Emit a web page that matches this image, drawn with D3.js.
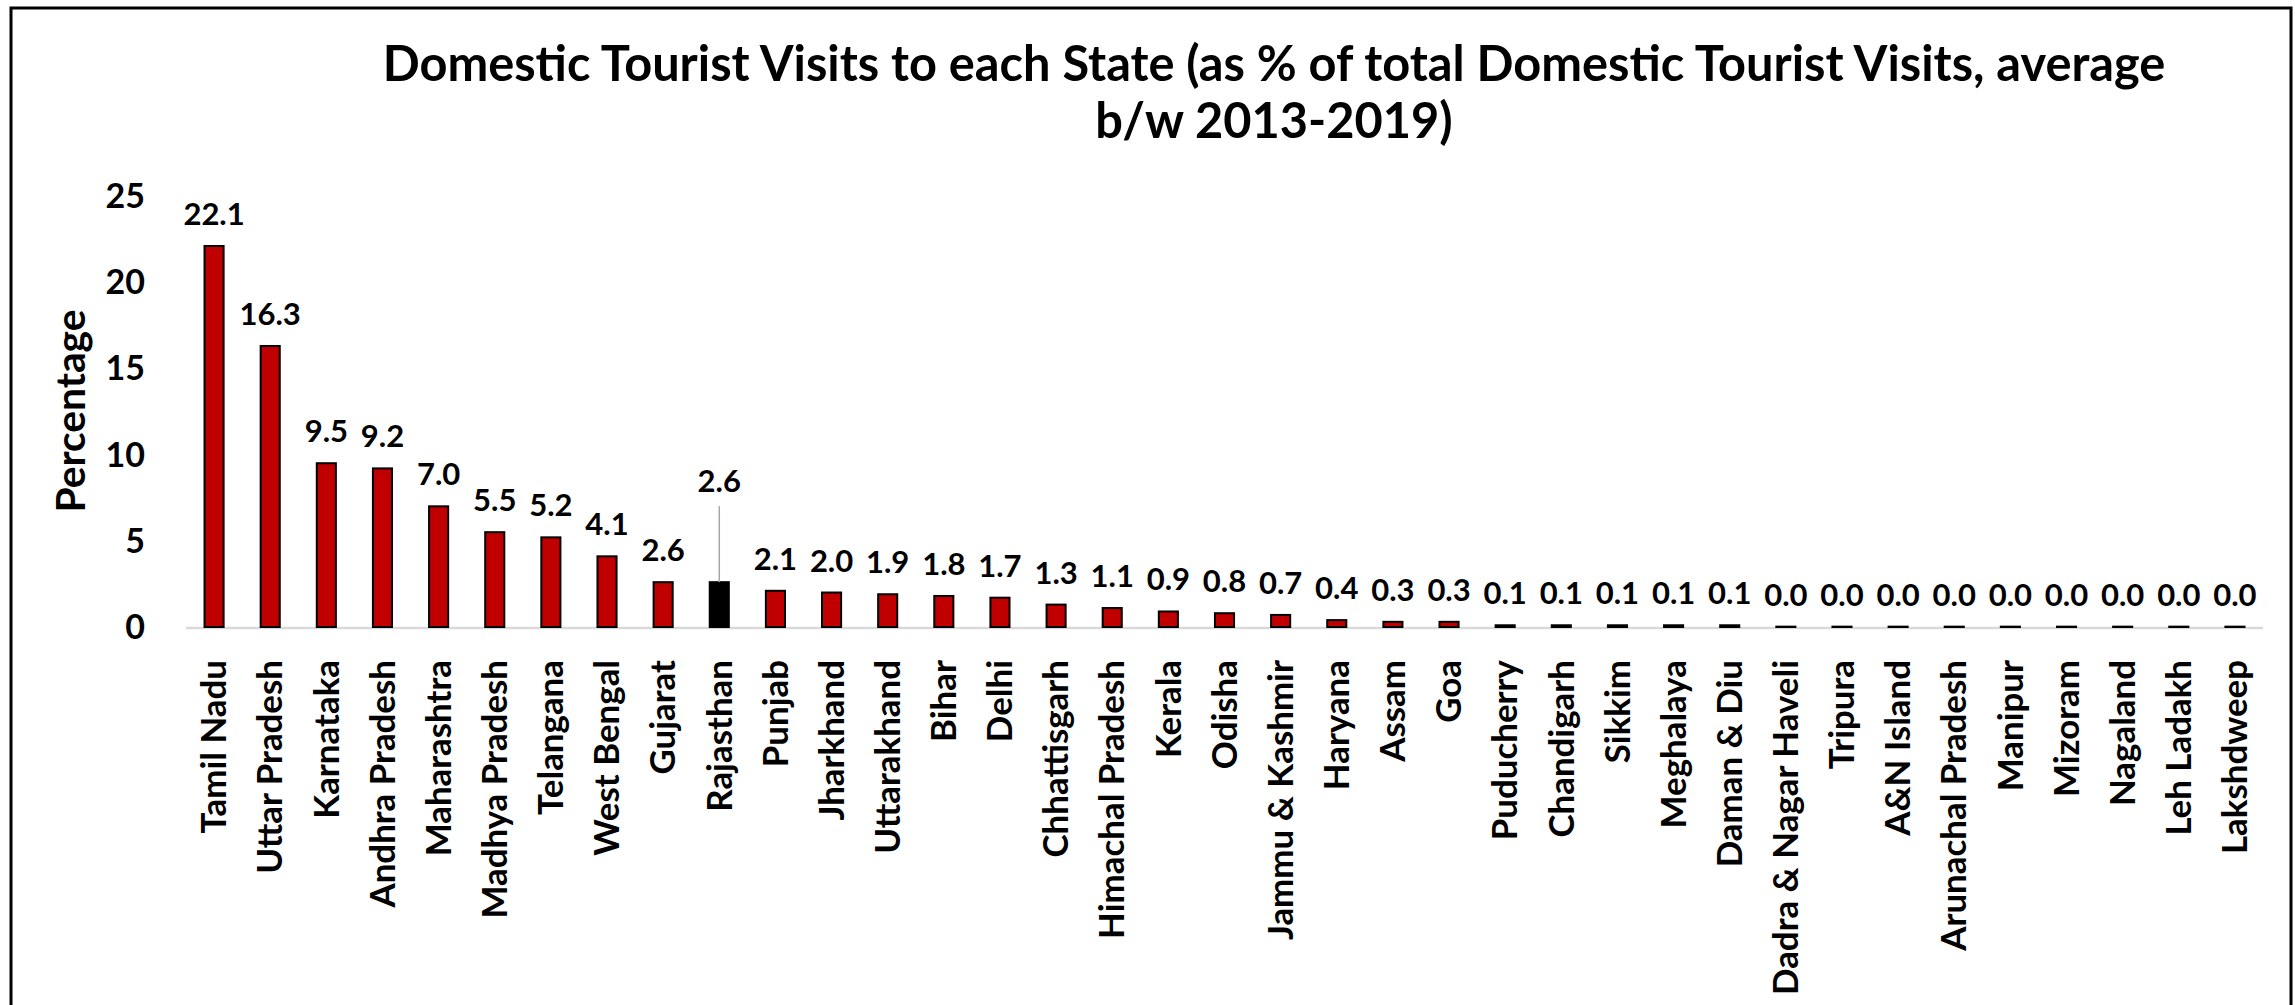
<!DOCTYPE html>
<html>
<head>
<meta charset="utf-8">
<script src="https://cdn.jsdelivr.net/npm/d3@7"></script>
<style>
  html, body { margin: 0; padding: 0; background: #fff; }
  svg text { font-family: Lato, "Open Sans", sans-serif; font-weight: bold; fill: #000; }
</style>
</head>
<body>
<svg id="chart" width="2295" height="1005"></svg>
<script>
// states, in the order shown
var states = ["Tamil Nadu", "Uttar Pradesh", "Karnataka", "Andhra Pradesh", "Maharashtra",
  "Madhya Pradesh", "Telangana", "West Bengal", "Gujarat", "Rajasthan", "Punjab", "Jharkhand",
  "Uttarakhand", "Bihar", "Delhi", "Chhattisgarh", "Himachal Pradesh", "Kerala", "Odisha",
  "Jammu & Kashmir", "Haryana", "Assam", "Goa", "Puducherry", "Chandigarh", "Sikkim",
  "Meghalaya", "Daman & Diu", "Dadra & Nagar Haveli", "Tripura", "A&N Island",
  "Arunachal Pradesh", "Manipur", "Mizoram", "Nagaland", "Leh Ladakh", "Lakshdweep"];

// % of total domestic tourist visits (avg 2013-2019)
var shares = [22.1, 16.3, 9.5, 9.2, 7.0, 5.5, 5.2, 4.1, 2.6, 2.6, 2.1, 2.0, 1.9, 1.8, 1.7,
  1.3, 1.1, 0.9, 0.8, 0.7, 0.4, 0.3, 0.3, 0.1, 0.1, 0.1, 0.1, 0.1, 0.02, 0.02, 0.02,
  0.02, 0.02, 0.02, 0.02, 0.02, 0.02];

var yTicks = [0, 5, 10, 15, 20, 25];
var highlight = "Rajasthan";

var titleLines = ["Domestic Tourist Visits to each State (as % of total Domestic Tourist Visits, average",
  "b/w 2013-2019)"];

var svg = d3.select("#chart");

// frame
svg.append("rect")
  .attr("x", 11).attr("y", 8)
  .attr("width", 2280).attr("height", 1100)
  .attr("fill", "none").attr("stroke", "#000").attr("stroke-width", 3);

var x = d3.scaleBand()
  .domain(states)
  .range([186, 2263])
  .paddingInner(0.66)
  .paddingOuter(0.33);

var y = d3.scaleLinear()
  .domain([0, 25])
  .range([627, 196]);

// fit a text element to a target width by changing font size
function fitWidth(sel, target) {
  var node = sel.node();
  var fs = parseFloat(sel.attr("font-size"));
  var w = node.getComputedTextLength();
  sel.attr("font-size", (fs * target / w).toFixed(2));
}

// title
var t1 = svg.append("text")
  .attr("x", 1274).attr("y", 81)
  .attr("text-anchor", "middle")
  .attr("font-size", 56)
  .text(titleLines[0]);
fitWidth(t1, 1783);
svg.append("text")
  .attr("x", 1274).attr("y", 138)
  .attr("text-anchor", "middle")
  .attr("font-size", t1.attr("font-size"))
  .text(titleLines[1]);

// y tick labels
svg.append("g").selectAll("text")
  .data(yTicks)
  .enter().append("text")
  .attr("x", 145)
  .attr("y", function(d) { return y(d); })
  .attr("dy", "0.35em")
  .attr("text-anchor", "end")
  .attr("font-size", 34)
  .text(function(d) { return d; });

// y axis title
var yTitle = svg.append("text")
  .attr("transform", "translate(85,411) rotate(-90)")
  .attr("text-anchor", "middle")
  .attr("font-size", 36)
  .text("Percentage");
fitWidth(yTitle, 203);

// baseline
svg.append("line")
  .attr("x1", 186).attr("x2", 2263)
  .attr("y1", y(0) + 1).attr("y2", y(0) + 1)
  .attr("stroke", "#d9d9d9").attr("stroke-width", 2.5);

var data = states.map(function(s, i) { return { state: s, value: shares[i] }; });

// bars
svg.append("g").selectAll("rect")
  .data(data)
  .enter().append("rect")
  .attr("x", function(d) { return x(d.state); })
  .attr("y", function(d) { return y(d.value); })
  .attr("width", x.bandwidth())
  .attr("height", function(d) { return y(0) - y(d.value); })
  .attr("fill", function(d) { return d.state == highlight ? "#000" : "#c00000"; })
  .attr("stroke", "#000")
  .attr("stroke-width", 2);

// value labels
var lift = function(d) { return d.state == highlight ? 90 : 21; };
svg.append("g").selectAll("text")
  .data(data)
  .enter().append("text")
  .attr("x", function(d) { return x(d.state) + x.bandwidth() / 2; })
  .attr("y", function(d) { return y(d.value) - lift(d); })
  .attr("text-anchor", "middle")
  .attr("font-size", 31)
  .text(function(d) { return d.value.toFixed(1); });

// leader line for the highlighted bar
var hl = data.filter(function(d) { return d.state == highlight; })[0];
svg.append("line")
  .attr("x1", x(hl.state) + x.bandwidth() / 2)
  .attr("x2", x(hl.state) + x.bandwidth() / 2)
  .attr("y1", y(hl.value) - 76)
  .attr("y2", y(hl.value))
  .attr("stroke", "#a6a6a6").attr("stroke-width", 1.5);

// category labels
var labels = svg.append("g").selectAll("text")
  .data(states)
  .enter().append("text")
  .attr("transform", function(d) {
    return "translate(" + (x(d) + x.bandwidth() / 2) + ",660) rotate(-90)";
  })
  .attr("dy", "0.35em")
  .attr("text-anchor", "end")
  .attr("font-size", 32)
  .text(function(d) { return d; });

// scale label font so the longest name matches the reference length
var longest = labels.filter(function(d) { return d == "Dadra & Nagar Haveli"; });
fitWidth(longest, 335);
labels.attr("font-size", longest.attr("font-size"));
</script>
</body>
</html>
